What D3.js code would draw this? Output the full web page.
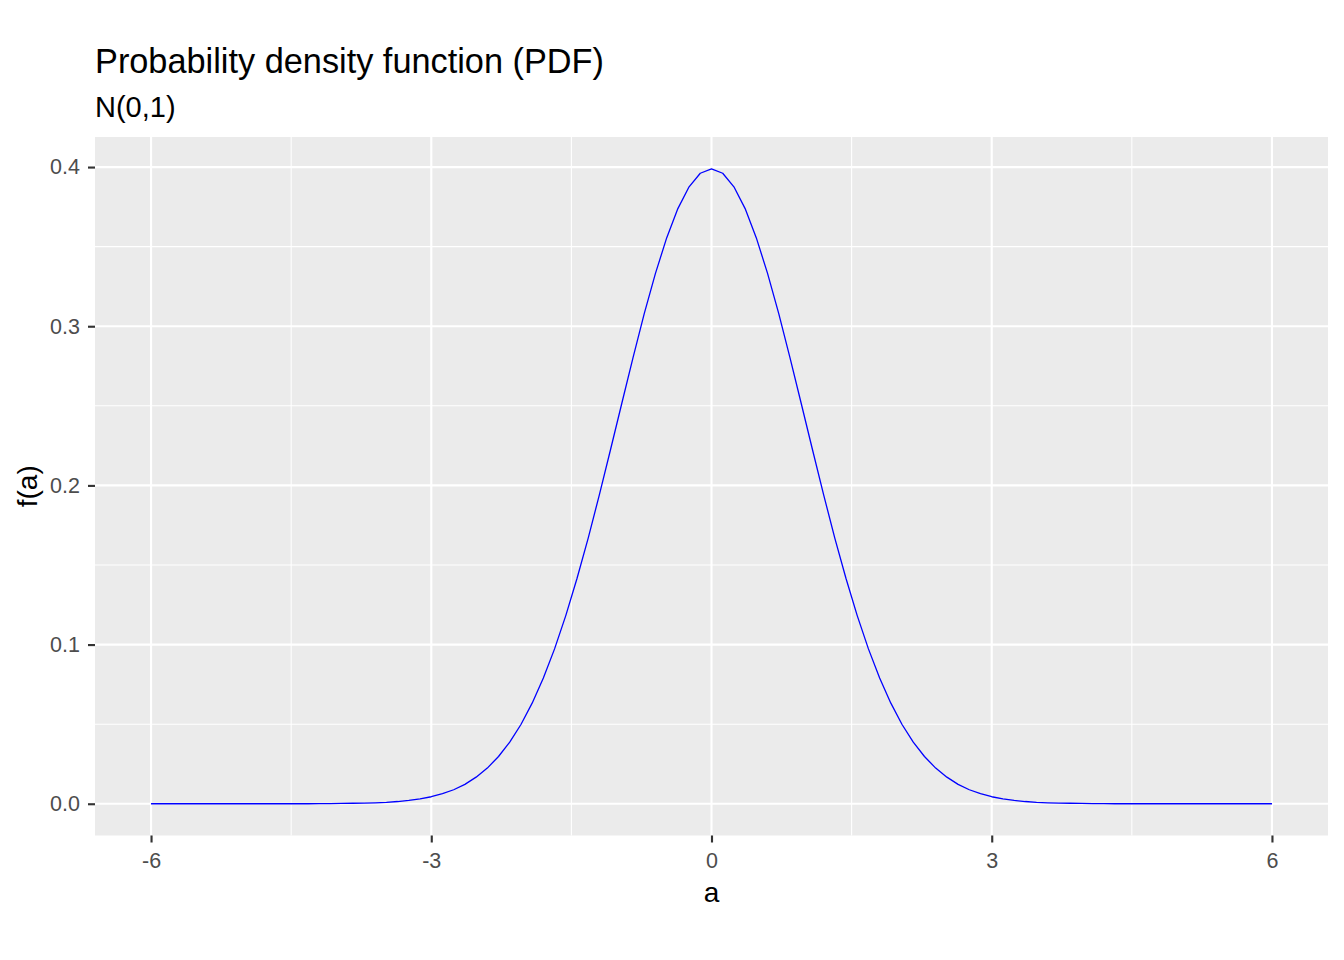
<!DOCTYPE html>
<html>
<head>
<meta charset="utf-8">
<script src="https://cdn.jsdelivr.net/npm/d3@7"></script>
<style>
  html, body { margin: 0; padding: 0; background: #fff; }
  svg { display: block; }
  text { font-family: "Liberation Sans", Arial, sans-serif; }
</style>
</head>
<body>
<svg id="chart" width="1344" height="960"></svg>
<script>
// ---- data ----
const titleText = "Probability density function (PDF)";
const subtitleText = "N(0,1)";
const xLabel = "a";
const yLabel = "f(a)";

const aValues = [
  -6.00,-5.88,-5.76,-5.64,-5.52,-5.40,-5.28,-5.16,-5.04,-4.92,
  -4.80,-4.68,-4.56,-4.44,-4.32,-4.20,-4.08,-3.96,-3.84,-3.72,
  -3.60,-3.48,-3.36,-3.24,-3.12,-3.00,-2.88,-2.76,-2.64,-2.52,
  -2.40,-2.28,-2.16,-2.04,-1.92,-1.80,-1.68,-1.56,-1.44,-1.32,
  -1.20,-1.08,-0.96,-0.84,-0.72,-0.60,-0.48,-0.36,-0.24,-0.12,
   0.00, 0.12, 0.24, 0.36, 0.48, 0.60, 0.72, 0.84, 0.96, 1.08,
   1.20, 1.32, 1.44, 1.56, 1.68, 1.80, 1.92, 2.04, 2.16, 2.28,
   2.40, 2.52, 2.64, 2.76, 2.88, 3.00, 3.12, 3.24, 3.36, 3.48,
   3.60, 3.72, 3.84, 3.96, 4.08, 4.20, 4.32, 4.44, 4.56, 4.68,
   4.80, 4.92, 5.04, 5.16, 5.28, 5.40, 5.52, 5.64, 5.76, 5.88,
   6.00
];
const densityValues = [
  0.0000,0.0000,0.0000,0.0000,0.0000,0.0000,0.0000,0.0000,0.0000,0.0000,
  0.0000,0.0000,0.0000,0.0000,0.0000,0.0001,0.0001,0.0002,0.0003,0.0004,
  0.0006,0.0009,0.0014,0.0021,0.0031,0.0044,0.0063,0.0088,0.0122,0.0167,
  0.0224,0.0297,0.0387,0.0498,0.0632,0.0790,0.0973,0.1182,0.1415,0.1669,
  0.1942,0.2227,0.2516,0.2803,0.3079,0.3332,0.3555,0.3739,0.3876,0.3961,
  0.3989,0.3961,0.3876,0.3739,0.3555,0.3332,0.3079,0.2803,0.2516,0.2227,
  0.1942,0.1669,0.1415,0.1182,0.0973,0.0790,0.0632,0.0498,0.0387,0.0297,
  0.0224,0.0167,0.0122,0.0088,0.0063,0.0044,0.0031,0.0021,0.0014,0.0009,
  0.0006,0.0004,0.0003,0.0002,0.0001,0.0001,0.0000,0.0000,0.0000,0.0000,
  0.0000,0.0000,0.0000,0.0000,0.0000,0.0000,0.0000,0.0000,0.0000,0.0000,
  0.0000
];
const xTicks = [-6, -3, 0, 3, 6];
const xMinorTicks = [-4.5, -1.5, 1.5, 4.5];
const yTicks = [0.0, 0.1, 0.2, 0.3, 0.4];
const yMinorTicks = [0.05, 0.15, 0.25, 0.35];

// ---- layout ----
const panel = { left: 95, right: 1328, top: 137, bottom: 835.5 };

const svg = d3.select("#chart");

// ggplot-like 5% expansion of the data range
const xExt = d3.extent(aValues);
const yExt = d3.extent(densityValues);
const yTop = 0.39894;
const xPad = (xExt[1] - xExt[0]) * 0.05;
const yPad = (yTop - yExt[0]) * 0.05;

const x = d3.scaleLinear()
  .domain([xExt[0] - xPad, xExt[1] + xPad])
  .range([panel.left, panel.right]);
const y = d3.scaleLinear()
  .domain([yExt[0] - yPad, yTop + yPad])
  .range([panel.bottom, panel.top]);

// panel background
svg.append("rect")
  .attr("x", panel.left).attr("y", panel.top)
  .attr("width", panel.right - panel.left)
  .attr("height", panel.bottom - panel.top)
  .attr("fill", "#EBEBEB");

const grid = svg.append("g");
// minor grid
grid.selectAll("line.xminor").data(xMinorTicks).join("line")
  .attr("x1", d => x(d)).attr("x2", d => x(d))
  .attr("y1", panel.top).attr("y2", panel.bottom)
  .attr("stroke", "#fff").attr("stroke-width", 1.07);
grid.selectAll("line.yminor").data(yMinorTicks).join("line")
  .attr("y1", d => y(d)).attr("y2", d => y(d))
  .attr("x1", panel.left).attr("x2", panel.right)
  .attr("stroke", "#fff").attr("stroke-width", 1.07);
// major grid
grid.selectAll("line.xmajor").data(xTicks).join("line")
  .attr("x1", d => x(d)).attr("x2", d => x(d))
  .attr("y1", panel.top).attr("y2", panel.bottom)
  .attr("stroke", "#fff").attr("stroke-width", 2.13);
grid.selectAll("line.ymajor").data(yTicks).join("line")
  .attr("y1", d => y(d)).attr("y2", d => y(d))
  .attr("x1", panel.left).attr("x2", panel.right)
  .attr("stroke", "#fff").attr("stroke-width", 2.13);

// curve
const line = d3.line()
  .x((d, i) => x(aValues[i]))
  .y(d => y(d));
svg.append("path")
  .datum(densityValues)
  .attr("d", line)
  .attr("fill", "none")
  .attr("stroke", "#0000FF")
  .attr("stroke-width", 1.3)
  .attr("stroke-linejoin", "round");

// axes
const xAxis = d3.axisBottom(x).tickValues(xTicks).tickSize(7).tickPadding(10)
  .tickFormat(d3.format("d"));
const gx = svg.append("g").attr("transform", `translate(0,${panel.bottom})`).call(xAxis);
gx.select(".domain").remove();
gx.selectAll(".tick line").attr("stroke", "#333333").attr("stroke-width", 2.13);
gx.selectAll(".tick text").attr("fill", "#4D4D4D").attr("font-size", 21.5)
  .attr("font-family", "Liberation Sans, Arial, sans-serif")
  .text(d => d < 0 ? "-" + Math.abs(d) : String(d));

const yAxis = d3.axisLeft(y).tickValues(yTicks).tickSize(7).tickPadding(8)
  .tickFormat(d3.format(".1f"));
const gy = svg.append("g").attr("transform", `translate(${panel.left},0)`).call(yAxis);
gy.select(".domain").remove();
gy.selectAll(".tick line").attr("stroke", "#333333").attr("stroke-width", 2.13);
gy.selectAll(".tick text").attr("fill", "#4D4D4D").attr("font-size", 21.5)
  .attr("font-family", "Liberation Sans, Arial, sans-serif");

// axis titles
svg.append("text")
  .attr("x", (panel.left + panel.right) / 2).attr("y", 902)
  .attr("text-anchor", "middle").attr("font-size", 28).attr("fill", "#000")
  .text(xLabel);
svg.append("text")
  .attr("transform", `translate(37,${(panel.top + panel.bottom) / 2}) rotate(-90)`)
  .attr("text-anchor", "middle").attr("font-size", 28).attr("fill", "#000")
  .text(yLabel);

// titles
svg.append("text")
  .attr("x", 95).attr("y", 73)
  .attr("font-size", 34.3).attr("fill", "#000")
  .text(titleText);
svg.append("text")
  .attr("x", 95).attr("y", 117)
  .attr("font-size", 29).attr("fill", "#000")
  .text(subtitleText);
</script>
</body>
</html>
